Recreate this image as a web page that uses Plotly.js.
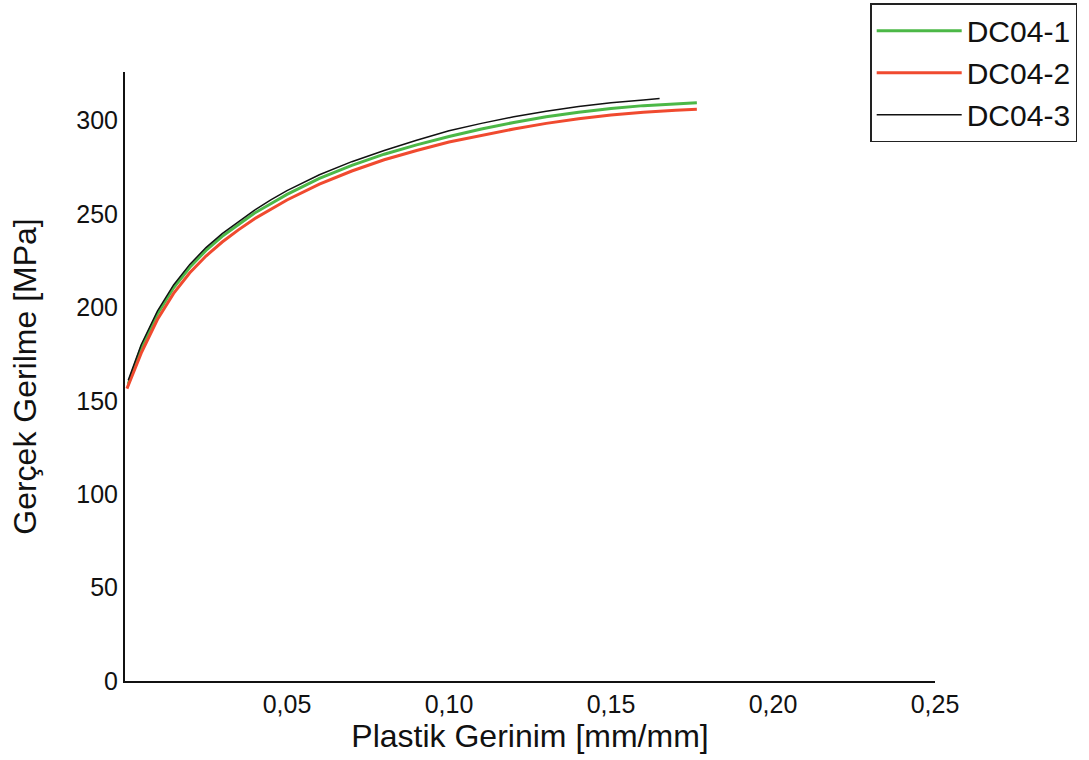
<!DOCTYPE html>
<html>
<head>
<meta charset="utf-8">
<script src="https://cdn.plot.ly/plotly-3.0.1.min.js"></script>
<style>html,body{margin:0;padding:0;background:#fff;}#chart{width:1089px;height:760px;}</style>
</head>
<body>
<div id="chart"></div>
<script>
const seriesNames = ["DC04-1", "DC04-2", "DC04-3"];
const seriesColors = ["#4cb847", "#f04a2f", "#111111"];

const strain1 = [0.001, 0.005, 0.01, 0.015, 0.02, 0.025, 0.03, 0.035, 0.04, 0.045, 0.05, 0.06, 0.07, 0.08, 0.09, 0.10, 0.11, 0.12, 0.13, 0.14, 0.15, 0.16, 0.17, 0.1765];
const stress1 = [159, 178.5, 196.5, 210.5, 221.5, 230.5, 238, 244.5, 250.5, 255.5, 260.5, 269, 276, 282, 287, 291.5, 295.5, 299, 302, 304.5, 306.5, 308, 309, 309.5];

const strain2 = [0.0006, 0.005, 0.01, 0.015, 0.02, 0.025, 0.03, 0.035, 0.04, 0.045, 0.05, 0.06, 0.07, 0.08, 0.09, 0.10, 0.11, 0.12, 0.13, 0.14, 0.15, 0.16, 0.17, 0.1765];
const stress2 = [156.5, 175.5, 193.5, 207.5, 218.5, 227.5, 235, 241.5, 247.5, 252.5, 257.5, 266, 273, 279, 284, 288.5, 292, 295.5, 298.5, 301, 303, 304.5, 305.5, 306];

const strain3 = [0.001, 0.005, 0.01, 0.015, 0.02, 0.025, 0.03, 0.035, 0.04, 0.045, 0.05, 0.06, 0.07, 0.08, 0.09, 0.10, 0.11, 0.12, 0.13, 0.14, 0.15, 0.16, 0.165];
const stress3 = [161, 180, 198, 212, 223, 232, 239.5, 246, 252, 257.5, 262.5, 271, 278, 284, 289.5, 294.5, 298.5, 302, 305, 307.5, 309.5, 311, 311.8];

const xTickVals = [0.05, 0.10, 0.15, 0.20, 0.25];
const xTickText = ["0,05", "0,10", "0,15", "0,20", "0,25"];
const yTickVals = [0, 50, 100, 150, 200, 250, 300];

const xs = [strain1, strain2, strain3];
const ys = [stress1, stress2, stress3];
const widths = [3, 3, 1.5];

const traces = seriesNames.map((n, i) => ({
  type: "scatter", mode: "lines", name: n,
  x: xs[i], y: ys[i],
  line: {color: seriesColors[i], width: widths[i]}
}));

const font = "Liberation Sans, Arial, sans-serif";
const layout = {
  width: 1089, height: 760,
  margin: {l: 125, r: 154, t: 72, b: 79, autoexpand: false},
  paper_bgcolor: "#ffffff", plot_bgcolor: "#ffffff",
  font: {family: font, color: "#111111", size: 25},
  showlegend: true,
  legend: {
    x: 0.92, y: 1.113, xanchor: "left", yanchor: "top",
    bordercolor: "#222222", borderwidth: 1.5, bgcolor: "#ffffff",
    font: {family: font, size: 30, color: "#111111"},
    tracegroupgap: 0, itemwidth: 85
  },
  xaxis: {
    range: [0, 0.25], showgrid: false, zeroline: false,
    showline: true, linecolor: "#111111", linewidth: 2,
    ticks: "", tickvals: xTickVals, ticktext: xTickText,
    tickfont: {family: font, size: 25, color: "#111111"},
    title: {text: "Plastik Gerinim [mm/mm]", font: {family: font, size: 32, color: "#111111"}, standoff: 8}
  },
  yaxis: {
    range: [0, 326], showgrid: false, zeroline: false,
    showline: true, linecolor: "#111111", linewidth: 2,
    ticks: "", tickvals: yTickVals,
    tickfont: {family: font, size: 25, color: "#111111"},
    title: {text: "Gerçek Gerilme [MPa]", font: {family: font, size: 32, color: "#111111"}, standoff: 30}
  }
};

Plotly.newPlot("chart", traces, layout, {displayModeBar: false, staticPlot: true});
</script>
</body>
</html>
